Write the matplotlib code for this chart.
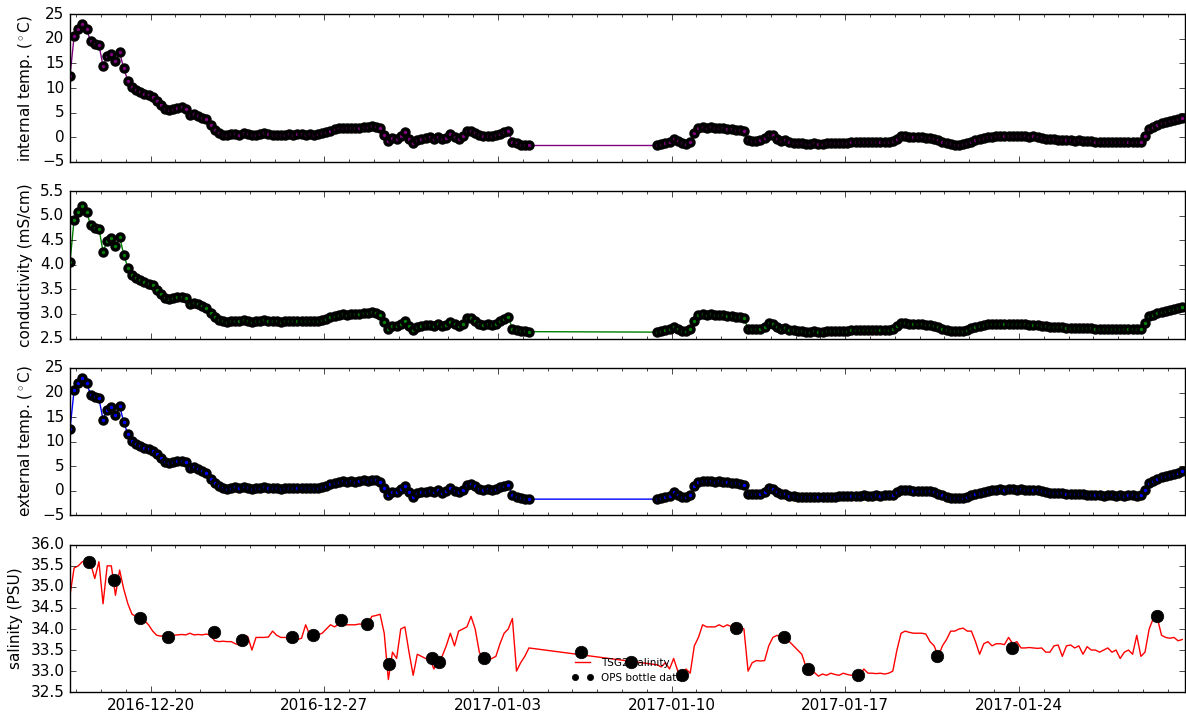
import pandas as pd
import matplotlib
matplotlib.use("Agg")
import matplotlib.pyplot as plt
import matplotlib.dates as mdates

plt.style.use("classic")
plt.rcParams["figure.facecolor"] = "white"
plt.rcParams["savefig.facecolor"] = "white"
plt.rcParams["font.size"] = 11

# Messwerte alle 4 h, zwei Abschnitte (Datenlücke 04.01. - 09.01.)
start_a = "2016-12-16 18:00"
start_b = "2017-01-09 10:00"

int_temp_a = [
    12.5, 20.5,
    22.0, 23.0, 22.0, 19.5, 19.0, 18.8,
    14.5, 16.5, 17.0, 15.5, 17.3, 14.0,
    11.5, 10.2, 9.6, 9.2, 8.8, 8.6,
    8.2, 7.4, 6.6, 5.8, 5.6, 5.8,
    6.0, 6.1, 5.8, 4.6, 4.8, 4.4,
    4.0, 3.6, 2.4, 1.5, 0.9, 0.5,
    0.4, 0.6, 0.7, 0.5, 0.8, 0.6,
    0.4, 0.5, 0.6, 0.8, 0.6, 0.5,
    0.5, 0.4, 0.5, 0.6, 0.5, 0.6,
    0.6, 0.5, 0.6, 0.5, 0.6, 0.8,
    1.0, 1.3, 1.6, 1.8, 1.9, 1.8,
    1.9, 1.8, 1.9, 2.1, 2.0, 2.2,
    2.1, 1.8, 0.5, -0.8, -0.2, -0.3,
    0.3, 1.0, -0.3, -1.2, -0.5, -0.3,
    -0.2, 0.0, -0.3, 0.1, -0.4, -0.1,
    0.6, 0.0, -0.3, 0.2, 1.2, 1.3,
    0.9, 0.4, 0.2, 0.3, 0.2, 0.4,
    0.7, 1.0, 1.2, -0.9, -1.2, -1.5,
    -1.7, -1.7,
]
int_temp_b = [
    -1.7, -1.4, -1.2, -1.0,
    -0.3, -0.8, -1.2, -1.3, -0.9, 0.9,
    1.8, 2.0, 1.9, 2.0, 1.8, 1.9,
    1.8, 1.7, 1.6, 1.5, 1.4, 1.2,
    -0.6, -0.7, -0.7, -0.6, -0.2, 0.5,
    0.4, -0.3, -0.7, -0.6, -1.0, -1.1,
    -1.2, -1.2, -1.3, -1.3, -1.2, -1.3,
    -1.3, -1.2, -1.2, -1.2, -1.1, -1.1,
    -1.1, -1.0, -1.0, -1.0, -0.9, -1.0,
    -1.0, -0.9, -1.0, -0.9, -0.9, -0.8,
    -0.3, 0.2, 0.2, 0.1, 0.0, 0.0,
    0.0, -0.1, -0.1, -0.3, -0.6, -0.9,
    -1.2, -1.4, -1.5, -1.5, -1.4, -1.2,
    -0.9, -0.6, -0.4, -0.2, 0.0, 0.1,
    0.2, 0.3, 0.2, 0.3, 0.3, 0.2,
    0.3, 0.2, 0.1, 0.2, 0.1, -0.1,
    -0.3, -0.4, -0.4, -0.5, -0.5, -0.6,
    -0.6, -0.7, -0.6, -0.7, -0.8, -0.8,
    -0.9, -0.9, -1.0, -0.9, -0.9, -1.0,
    -0.9, -1.0, -0.9, -0.9, -1.0, -0.9,
    0.2, 1.6, 2.0, 2.5, 2.9, 3.1,
    3.3, 3.4, 3.7, 4.0,
]

cond_a = [
    4.05, 4.92,
    5.08, 5.19, 5.08, 4.81, 4.76, 4.74,
    4.27, 4.48, 4.54, 4.38, 4.57, 4.21,
    3.94, 3.80, 3.73, 3.69, 3.65, 3.62,
    3.58, 3.49, 3.41, 3.32, 3.30, 3.32,
    3.34, 3.35, 3.32, 3.21, 3.23, 3.20,
    3.16, 3.12, 3.02, 2.94, 2.88, 2.85,
    2.84, 2.85, 2.86, 2.85, 2.87, 2.85,
    2.84, 2.85, 2.85, 2.87, 2.85, 2.85,
    2.85, 2.84, 2.85, 2.85, 2.85, 2.85,
    2.85, 2.85, 2.85, 2.85, 2.86, 2.87,
    2.90, 2.93, 2.96, 2.98, 2.99, 2.98,
    3.00, 2.99, 3.00, 3.02, 3.01, 3.03,
    3.01, 2.97, 2.83, 2.70, 2.76, 2.75,
    2.80, 2.86, 2.75, 2.68, 2.74, 2.76,
    2.77, 2.78, 2.75, 2.79, 2.75, 2.77,
    2.84, 2.79, 2.76, 2.80, 2.91, 2.92,
    2.86, 2.80, 2.78, 2.79, 2.78, 2.80,
    2.85, 2.89, 2.94, 2.70, 2.67, 2.66,
    2.65, 2.64,
]
cond_b = [
    2.63, 2.65, 2.67, 2.69,
    2.74, 2.70, 2.66, 2.65, 2.69, 2.86,
    2.97, 2.99, 2.98, 2.99, 2.97, 2.98,
    2.97, 2.96, 2.95, 2.94, 2.93, 2.91,
    2.70, 2.69, 2.69, 2.70, 2.74, 2.81,
    2.80, 2.74, 2.70, 2.71, 2.68, 2.67,
    2.65, 2.65, 2.64, 2.64, 2.65, 2.64,
    2.64, 2.65, 2.65, 2.65, 2.66, 2.66,
    2.66, 2.67, 2.67, 2.67, 2.68, 2.67,
    2.67, 2.68, 2.67, 2.68, 2.68, 2.69,
    2.76, 2.81, 2.81, 2.80, 2.79, 2.79,
    2.79, 2.78, 2.78, 2.76, 2.73, 2.70,
    2.67, 2.66, 2.65, 2.65, 2.66, 2.68,
    2.71, 2.74, 2.76, 2.77, 2.79, 2.80,
    2.80, 2.80, 2.80, 2.80, 2.80, 2.79,
    2.79, 2.79, 2.78, 2.78, 2.77, 2.76,
    2.75, 2.74, 2.74, 2.73, 2.73, 2.72,
    2.72, 2.72, 2.72, 2.71, 2.71, 2.71,
    2.70, 2.70, 2.69, 2.70, 2.70, 2.69,
    2.70, 2.69, 2.70, 2.70, 2.69, 2.70,
    2.82, 2.95, 2.98, 3.02, 3.05, 3.07,
    3.09, 3.10, 3.13, 3.15,
]

# Außentemperatur liegt praktisch auf der Innentemperatur
ext_temp_a = list(int_temp_a)
ext_temp_b = list(int_temp_b)

sal_a = [
    34.8, 35.45,
    35.5, 35.6, 35.6, 35.55, 35.2, 35.6,
    34.6, 35.5, 35.5, 34.8, 35.4, 34.95,
    34.6, 34.35, 34.3, 34.25, 34.2, 34.1,
    33.95, 33.85, 33.83, 33.85, 33.83, 33.85,
    33.86, 33.87, 33.86, 33.9, 33.86, 33.87,
    33.86, 33.88, 33.85, 33.72, 33.7, 33.71,
    33.7, 33.7, 33.65, 33.62, 33.85, 33.82,
    33.5, 33.8, 33.8, 33.8, 33.81, 33.95,
    33.85, 33.8, 33.8, 33.78, 33.8, 33.75,
    33.78, 34.1, 33.85, 33.85, 33.86, 33.9,
    34.0, 34.1, 34.05, 34.12, 34.1, 34.1,
    34.1, 34.1, 34.12, 34.1, 34.1, 34.3,
    34.32, 34.35, 33.9, 32.8, 33.45, 33.3,
    34.0, 34.05, 33.45, 32.9, 33.4, 33.35,
    33.3, 33.32, 33.05, 33.25, 33.35, 33.6,
    33.9, 33.6, 33.95, 34.0, 34.05, 34.3,
    34.0, 33.45, 33.3, 33.25, 33.3, 33.35,
    33.65, 33.9, 34.0, 34.25, 33.0, 33.2,
    33.35, 33.55,
]
sal_b = [
    33.15, 33.1, 33.2, 33.05,
    33.3, 33.0, 32.95, 33.05, 32.95, 33.6,
    33.8, 34.1, 34.05, 34.05, 34.05, 34.1,
    34.05, 34.1, 34.05, 34.1, 34.05, 34.0,
    33.0, 33.2, 33.25, 33.24, 33.25, 33.6,
    33.8, 33.85, 33.8, 33.75, 33.7, 33.6,
    33.5, 33.4, 33.1, 32.9, 32.97, 32.88,
    32.93, 32.9, 32.95, 32.92, 32.9, 32.95,
    32.92, 32.9, 32.93, 32.9, 33.05, 32.95,
    32.95, 32.94, 32.95, 32.93, 32.95, 33.0,
    33.5, 33.9, 33.95, 33.92, 33.9, 33.9,
    33.9, 33.88, 33.7, 33.6, 33.35, 33.6,
    33.75, 33.95, 33.95, 34.0, 34.02, 33.95,
    33.95, 33.7, 33.4, 33.65, 33.7, 33.6,
    33.65, 33.65, 33.63, 33.8, 33.65, 33.7,
    33.55, 33.55, 33.56, 33.55, 33.54, 33.55,
    33.45, 33.45, 33.6, 33.62, 33.35, 33.6,
    33.62, 33.55, 33.6, 33.4, 33.58, 33.5,
    33.5, 33.45, 33.5, 33.55, 33.45, 33.5,
    33.3, 33.45, 33.5, 33.4, 33.85, 33.35,
    33.45, 34.0, 34.25, 34.25, 33.85, 33.8,
    33.78, 33.8, 33.72, 33.75,
]

bottle_times = [
    "2016-12-17 12:20", "2016-12-18 12:50", "2016-12-19 13:40", "2016-12-20 16:30",
    "2016-12-22 13:30", "2016-12-23 16:40", "2016-12-25 16:20", "2016-12-26 13:20",
    "2016-12-27 16:00", "2016-12-28 17:00", "2016-12-29 14:50", "2016-12-31 07:50",
    "2016-12-31 14:50", "2017-01-02 10:40", "2017-01-06 08:15", "2017-01-08 08:40",
    "2017-01-10 09:40", "2017-01-12 13:50", "2017-01-14 12:40", "2017-01-15 12:10",
    "2017-01-17 12:30", "2017-01-20 16:20", "2017-01-23 17:10", "2017-01-29 13:10",
]
bottle_sal = [
    35.60, 35.17, 34.25, 33.82, 33.93, 33.75, 33.81, 33.86,
    34.21, 34.11, 33.17, 33.32, 33.21, 33.32, 33.45, 33.21,
    32.90, 34.02, 33.81, 33.06, 32.90, 33.37, 33.56, 34.31,
]


def zeitreihe(werte_a, werte_b):
    t = pd.date_range(start_a, periods=len(werte_a), freq="4h").append(
        pd.date_range(start_b, periods=len(werte_b), freq="4h"))
    return t, list(werte_a) + list(werte_b)


fig, axes = plt.subplots(4, 1, sharex=True, figsize=(11.86, 7.18), dpi=100)
fig.subplots_adjust(left=0.059, right=0.999, top=0.98, bottom=0.036, hspace=0.2)

panels = [
    (int_temp_a, int_temp_b, "purple", "internal temp. ($^\\circ$C)", (-5, 25)),
    (cond_a, cond_b, "green", "conductivity (mS/cm)", (2.5, 5.5)),
    (ext_temp_a, ext_temp_b, "blue", "external temp. ($^\\circ$C)", (-5, 25)),
]
for ax, (wa, wb, farbe, label, lim) in zip(axes[:3], panels):
    t, v = zeitreihe(wa, wb)
    ax.plot(t, v, "-o", color=farbe, mec="k", mew=2.5, ms=5, lw=1)
    ax.set_ylabel(label)
    ax.set_ylim(lim)

ax = axes[3]
t, v = zeitreihe(sal_a, sal_b)
ax.plot(t, v, "r-", lw=1, label="TSG2 salinity")
ax.plot(pd.to_datetime(bottle_times), bottle_sal, "ko", ms=9, label="OPS bottle data")
ax.set_ylabel("salinity (PSU)")
ax.set_ylim(32.5, 36.0)
ax.legend(loc="lower center", frameon=False, fontsize=7.5, numpoints=2, markerscale=0.5)

ax.set_xlim(pd.Timestamp("2016-12-16 18:00"), pd.Timestamp("2017-01-30 16:30"))
ax.xaxis.set_major_locator(mdates.WeekdayLocator(byweekday=mdates.TU))
ax.xaxis.set_minor_locator(mdates.DayLocator())
ax.xaxis.set_major_formatter(mdates.DateFormatter("%Y-%m-%d"))

plt.savefig("out.png", dpi=100)
plt.close()
